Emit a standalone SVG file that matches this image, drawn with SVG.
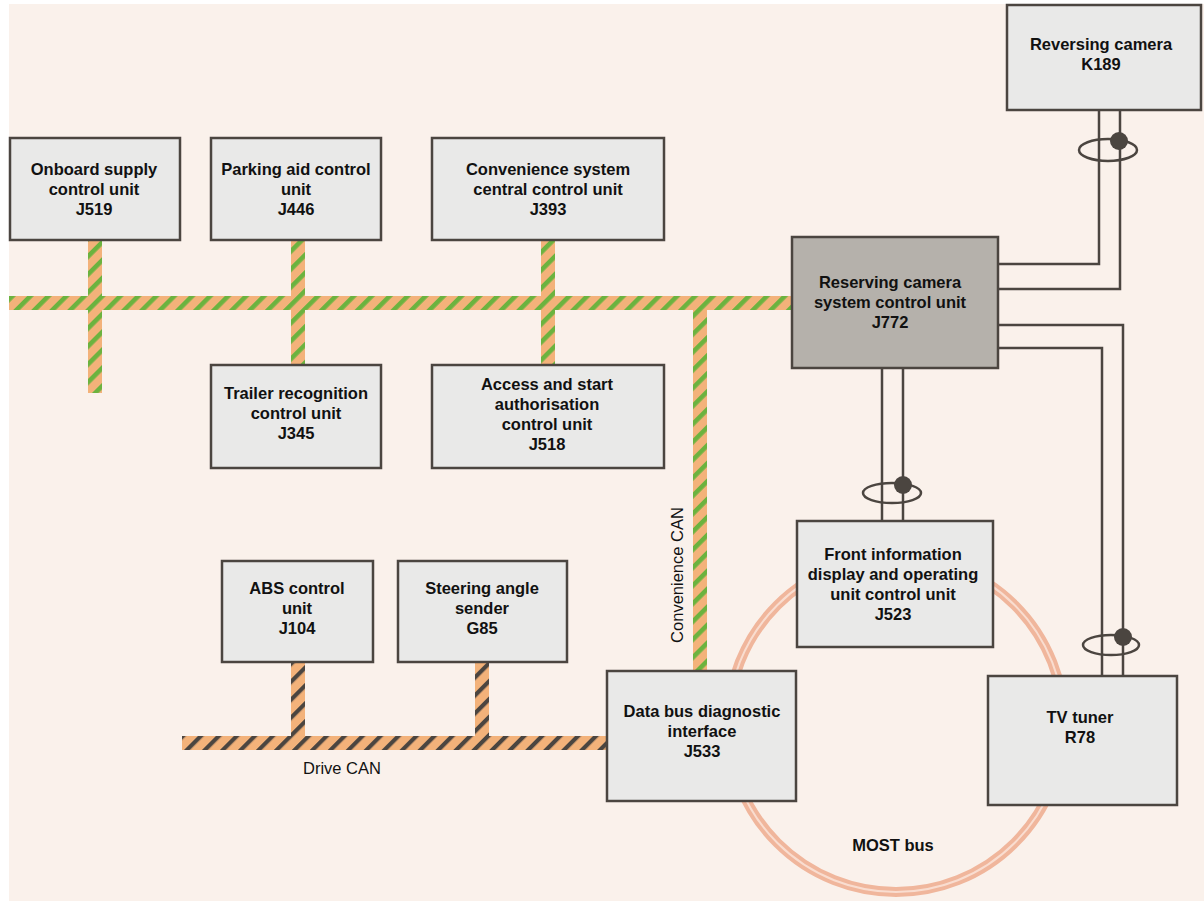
<svg xmlns="http://www.w3.org/2000/svg" width="1204" height="901" viewBox="0 0 1204 901">
<defs>
<style>
.box{fill:#E9E9E8;stroke:#4B4540;stroke-width:2.5}
.dark{fill:#B5B1AB;stroke:#4B4540;stroke-width:2.5}
.t{font-family:"Liberation Sans",Arial,sans-serif;font-weight:bold;font-size:16.5px;fill:#111;text-anchor:middle}
.lbl{font-family:"Liberation Sans",Arial,sans-serif;font-size:16.5px;fill:#111;text-anchor:middle}
.w{fill:none;stroke:#4B4540;stroke-width:2.5}
.dot{fill:#4B4540}
</style>
<pattern id="cc" patternUnits="userSpaceOnUse" width="12.7" height="12.7" patternTransform="rotate(45)">
<rect width="12.7" height="12.7" fill="#F3B27A"/>
<rect width="4.6" height="12.7" fill="#6BB33F"/>
</pattern>
<pattern id="dc" patternUnits="userSpaceOnUse" width="12.7" height="12.7" patternTransform="rotate(45)">
<rect width="12.7" height="12.7" fill="#F3B27A"/>
<rect width="4.2" height="12.7" fill="#4B4540"/>
</pattern>
</defs>
<rect x="0" y="0" width="1204" height="901" fill="#FFFFFF"/>
<rect x="9" y="4" width="1195" height="897" fill="#FAF1EB"/>
<g id="connectors">
<g id="most-bus">
<circle cx="896" cy="724" r="168" fill="none" stroke="#F0B69C" stroke-width="10"/>
<circle cx="896" cy="724" r="168" fill="none" stroke="#F9DDD0" stroke-width="2"/>
</g>
<g id="convenience-can" fill="url(#cc)">
<rect x="9" y="296" width="783" height="14"/>
<rect x="88" y="240" width="14" height="153"/>
<rect x="291" y="240" width="14" height="125"/>
<rect x="541" y="240" width="14" height="125"/>
<rect x="693" y="303" width="14" height="368"/>
</g>
<g id="drive-can" fill="url(#dc)">
<rect x="182" y="736" width="425" height="14"/>
<rect x="291" y="662" width="14" height="80"/>
<rect x="475" y="662" width="14" height="80"/>
</g>
<g id="k189-j772">
<polyline class="w" points="1099,110 1099,264 998,264"/>
<polyline class="w" points="1120,110 1120,289 998,289"/>
<ellipse class="w" cx="1108" cy="150" rx="29" ry="11"/>
<circle class="dot" cx="1119" cy="141" r="9"/>
</g>
<g id="j772-r78">
<polyline class="w" points="998,325 1123,325 1123,676"/>
<polyline class="w" points="998,348 1102,348 1102,676"/>
<ellipse class="w" cx="1111" cy="645" rx="28" ry="10"/>
<circle class="dot" cx="1123" cy="637" r="9"/>
</g>
<g id="j772-j523">
<line class="w" x1="882" y1="368" x2="882" y2="521"/>
<line class="w" x1="903" y1="368" x2="903" y2="521"/>
<ellipse class="w" cx="892" cy="493" rx="29" ry="10"/>
<circle class="dot" cx="903" cy="485" r="9"/>
</g>
</g>
<g id="J519"><rect class="box" x="10" y="138" width="170" height="102"/>
<text class="t" x="94" y="175">Onboard supply</text><text class="t" x="94" y="195">control unit</text><text class="t" x="94" y="215">J519</text></g>
<g id="J446"><rect class="box" x="211" y="138" width="170" height="102"/>
<text class="t" x="296" y="175">Parking aid control</text><text class="t" x="296" y="195">unit</text><text class="t" x="296" y="215">J446</text></g>
<g id="J393"><rect class="box" x="432" y="138" width="232" height="102"/>
<text class="t" x="548" y="175">Convenience system</text><text class="t" x="548" y="195">central control unit</text><text class="t" x="548" y="215">J393</text></g>
<g id="K189"><rect class="box" x="1007" y="5" width="194" height="105"/>
<text class="t" x="1101" y="50">Reversing camera</text><text class="t" x="1101" y="70">K189</text></g>
<g id="J772"><rect class="dark" x="792" y="237" width="206" height="131"/>
<text class="t" x="890" y="288">Reserving camera</text><text class="t" x="890" y="308">system control unit</text><text class="t" x="890" y="328">J772</text></g>
<g id="J345"><rect class="box" x="211" y="365" width="170" height="103"/>
<text class="t" x="296" y="399">Trailer recognition</text><text class="t" x="296" y="419">control unit</text><text class="t" x="296" y="439">J345</text></g>
<g id="J518"><rect class="box" x="432" y="365" width="232" height="103"/>
<text class="t" x="547" y="390">Access and start</text><text class="t" x="547" y="410">authorisation</text><text class="t" x="547" y="430">control unit</text><text class="t" x="547" y="450">J518</text></g>
<g id="J523"><rect class="box" x="797" y="521" width="196" height="126"/>
<text class="t" x="893" y="560">Front information</text><text class="t" x="893" y="580">display and operating</text><text class="t" x="893" y="600">unit control unit</text><text class="t" x="893" y="620">J523</text></g>
<g id="J104"><rect class="box" x="222" y="561" width="151" height="101"/>
<text class="t" x="297" y="594">ABS control</text><text class="t" x="297" y="614">unit</text><text class="t" x="297" y="634">J104</text></g>
<g id="G85"><rect class="box" x="398" y="561" width="169" height="101"/>
<text class="t" x="482" y="594">Steering angle</text><text class="t" x="482" y="614">sender</text><text class="t" x="482" y="634">G85</text></g>
<g id="J533"><rect class="box" x="607" y="671" width="189" height="130"/>
<text class="t" x="702" y="717">Data bus diagnostic</text><text class="t" x="702" y="737">interface</text><text class="t" x="702" y="757">J533</text></g>
<g id="R78"><rect class="box" x="988" y="676" width="189" height="129"/>
<text class="t" x="1080" y="723">TV tuner</text><text class="t" x="1080" y="743">R78</text></g>
<text class="lbl" x="342" y="774">Drive CAN</text>
<text class="lbl" transform="translate(683,575) rotate(-90)">Convenience CAN</text>
<text class="t" x="893" y="851">MOST bus</text>
</svg>
